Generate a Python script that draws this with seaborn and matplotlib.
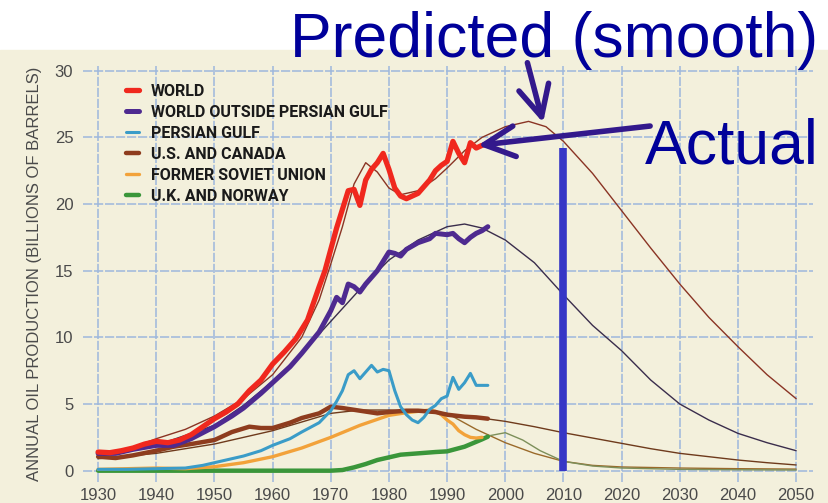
import matplotlib
matplotlib.use("Agg")
import matplotlib.pyplot as plt
import seaborn as sns
from matplotlib.patches import Rectangle

# actual production (thick lines), billions of barrels per year
world_years = [1930, 1932, 1934, 1936, 1938, 1940, 1942, 1944, 1946, 1948, 1950, 1952, 1954, 1956,
               1958, 1960, 1962, 1964, 1966, 1968, 1969, 1970, 1971, 1972, 1973, 1974, 1975, 1976,
               1977, 1978, 1979, 1980, 1981, 1982, 1983, 1984, 1985, 1986, 1987, 1988, 1989, 1990,
               1991, 1992, 1993, 1994, 1995, 1996]
world_actual = [1.4, 1.35, 1.5, 1.7, 2.0, 2.2, 2.1, 2.3, 2.7, 3.3, 3.9, 4.4, 5.0, 6.0,
                6.8, 8.0, 8.9, 9.9, 11.3, 13.8, 15.0, 16.6, 18.2, 19.6, 21.0, 21.1, 19.9, 21.8,
                22.6, 23.1, 23.8, 22.6, 21.2, 20.6, 20.4, 20.6, 20.8, 21.3, 21.8, 22.5, 22.9, 23.2,
                24.7, 23.8, 23.1, 24.6, 24.2, 24.4]

outside_years = [1930, 1933, 1936, 1940, 1943, 1946, 1950, 1953, 1955, 1958, 1960, 1963, 1965, 1968,
                 1970, 1971, 1972, 1973, 1974, 1975, 1976, 1977, 1978, 1979, 1980, 1981, 1982, 1983,
                 1985, 1987, 1988, 1990, 1991, 1992, 1993, 1994, 1995, 1996, 1997]
outside_actual = [1.3, 1.3, 1.6, 1.9, 1.9, 2.4, 3.3, 4.1, 4.7, 5.8, 6.6, 7.8, 8.8, 10.4,
                  12.0, 13.0, 12.6, 14.0, 13.8, 13.4, 14.0, 14.5, 15.0, 15.7, 16.4, 16.3, 16.1, 16.6,
                  17.1, 17.4, 17.8, 17.7, 17.8, 17.4, 17.1, 17.5, 17.8, 18.0, 18.3]

gulf_years = [1930, 1935, 1940, 1945, 1948, 1950, 1952, 1955, 1958, 1960, 1963, 1965, 1968, 1970,
              1971, 1972, 1973, 1974, 1975, 1976, 1977, 1978, 1979, 1980, 1981, 1982, 1983, 1984,
              1985, 1986, 1987, 1988, 1989, 1990, 1991, 1992, 1993, 1994, 1995, 1996, 1997]
gulf_actual = [0.1, 0.1, 0.15, 0.2, 0.4, 0.6, 0.8, 1.1, 1.5, 1.9, 2.4, 2.9, 3.6, 4.5,
               5.2, 6.0, 7.2, 7.5, 6.9, 7.4, 7.9, 7.4, 7.6, 7.5, 6.0, 4.8, 4.2, 3.8,
               3.6, 4.0, 4.6, 4.9, 5.4, 5.6, 7.0, 6.1, 6.6, 7.3, 6.4, 6.4, 6.4]

usc_years = [1930, 1933, 1936, 1940, 1943, 1946, 1950, 1953, 1956, 1958, 1960, 1963, 1965, 1968,
             1970, 1972, 1975, 1978, 1980, 1983, 1985, 1988, 1990, 1993, 1995, 1997]
usc_actual = [1.05, 0.95, 1.15, 1.5, 1.8, 2.0, 2.3, 2.9, 3.3, 3.2, 3.2, 3.6, 3.95, 4.3,
              4.8, 4.7, 4.5, 4.3, 4.4, 4.5, 4.5, 4.4, 4.2, 4.05, 4.0, 3.9]

fsu_years = [1930, 1935, 1940, 1945, 1950, 1955, 1960, 1965, 1970, 1975, 1980, 1983, 1985, 1987,
             1988, 1989, 1990, 1991, 1992, 1993, 1994, 1995, 1996]
fsu_actual = [0.1, 0.15, 0.2, 0.15, 0.3, 0.6, 1.05, 1.7, 2.5, 3.4, 4.15, 4.35, 4.45, 4.55,
              4.45, 4.2, 3.8, 3.5, 3.0, 2.7, 2.5, 2.45, 2.5]

ukn_years = [1930, 1950, 1970, 1972, 1974, 1976, 1978, 1980, 1982, 1985, 1988, 1990, 1993, 1996, 1997]
ukn_actual = [0.0, 0.0, 0.0, 0.05, 0.25, 0.5, 0.8, 1.0, 1.2, 1.3, 1.4, 1.45, 1.8, 2.35, 2.55]

# predicted (smooth, thin lines)
world_s_years = [1930, 1935, 1940, 1945, 1950, 1955, 1960, 1965, 1968, 1970, 1972, 1974, 1976, 1978,
                 1980, 1982, 1985, 1988, 1990, 1993, 1996, 2000, 2004, 2007, 2010, 2015, 2020, 2025,
                 2030, 2035, 2040, 2045, 2050]
world_smooth = [1.2, 1.6, 2.4, 3.1, 4.1, 5.4, 7.2, 10.0, 12.8, 15.5, 18.3, 21.5, 23.1, 22.4,
                21.2, 20.7, 21.0, 21.9, 22.7, 24.0, 25.0, 25.8, 26.2, 25.8, 24.7, 22.3, 19.5, 16.7,
                14.0, 11.5, 9.3, 7.2, 5.4]

outside_s_years = [1930, 1940, 1950, 1955, 1960, 1965, 1970, 1975, 1980, 1985, 1990, 1993, 1996, 2000,
                   2005, 2010, 2015, 2020, 2025, 2030, 2035, 2040, 2045, 2050]
outside_smooth = [1.2, 1.9, 3.4, 4.9, 6.7, 8.8, 11.2, 13.6, 15.8, 17.3, 18.3, 18.5, 18.2, 17.3,
                  15.6, 13.2, 10.9, 9.0, 6.8, 5.0, 3.8, 2.8, 2.1, 1.5]

usc_s_years = [1930, 1940, 1950, 1960, 1970, 1975, 1980, 1985, 1990, 1995, 2000, 2005, 2010, 2015,
               2020, 2025, 2030, 2035, 2040, 2045, 2050]
usc_smooth = [0.9, 1.3, 2.0, 3.0, 4.3, 4.55, 4.55, 4.45, 4.25, 4.0, 3.7, 3.3, 2.85, 2.45,
              2.05, 1.65, 1.3, 1.05, 0.8, 0.6, 0.43]

fsu_s_years = [1985, 1990, 1995, 2000, 2005, 2010, 2015, 2020, 2030, 2040, 2050]
fsu_smooth = [4.45, 4.3, 3.1, 2.1, 1.3, 0.7, 0.4, 0.28, 0.2, 0.15, 0.12]

ukn_s_years = [1995, 1997, 2000, 2003, 2006, 2010, 2015, 2020, 2030, 2040, 2050]
ukn_smooth = [2.35, 2.6, 2.85, 2.3, 1.5, 0.7, 0.35, 0.2, 0.1, 0.07, 0.05]

now_year = 2010
now_top = 24.2

cream = "#f3f0dc"
ink = "#00009a"
arrow_col = "#33198c"

sns.set_style("white")
plt.rcParams['font.family'] = ['Liberation Sans', 'DejaVu Sans']

fig = plt.figure(figsize=(8.29, 5.03), dpi=100)
fig.patches.append(Rectangle((0, 0), 1, 1 - 50 / 503, transform=fig.transFigure,
                             color=cream, zorder=-1))
ax = fig.add_axes([0.1001, 0.0417, 0.8806, 0.827])
ax.set_facecolor(cream)

# thin smooth curves first
sns.lineplot(x=world_s_years, y=world_smooth, ax=ax, color="#8a3424", linewidth=1.0)
sns.lineplot(x=outside_s_years, y=outside_smooth, ax=ax, color="#3a2d4c", linewidth=1.0)
sns.lineplot(x=usc_s_years, y=usc_smooth, ax=ax, color="#6e3a1c", linewidth=1.0)
sns.lineplot(x=fsu_s_years, y=fsu_smooth, ax=ax, color="#9a6a2a", linewidth=1.0)
sns.lineplot(x=ukn_s_years, y=ukn_smooth, ax=ax, color="#7c8f5a", linewidth=1.0)

# thick actual lines
sns.lineplot(x=ukn_years, y=ukn_actual, ax=ax, color="#3a963a", linewidth=3.2, label="U.K. AND NORWAY")
sns.lineplot(x=fsu_years, y=fsu_actual, ax=ax, color="#f2a23a", linewidth=2.4, label="FORMER SOVIET UNION")
sns.lineplot(x=usc_years, y=usc_actual, ax=ax, color="#8e3c1e", linewidth=3.2, label="U.S. AND CANADA")
sns.lineplot(x=gulf_years, y=gulf_actual, ax=ax, color="#3a9cc8", linewidth=2.2, label="PERSIAN GULF")
sns.lineplot(x=outside_years, y=outside_actual, ax=ax, color="#4e2a90", linewidth=3.6,
             label="WORLD OUTSIDE PERSIAN GULF")
sns.lineplot(x=world_years, y=world_actual, ax=ax, color="#f0281e", linewidth=3.8, label="WORLD")

ax.set_xlim(1927.4, 2052.9)
ax.set_ylim(-0.85, 30.35)
ax.set_xticks(range(1930, 2051, 10))
ax.set_yticks(range(0, 31, 5))
ax.grid(True, color="#9db7dc", linewidth=1.1, linestyle=(0, (6, 1.2)))
for s in ax.spines.values():
    s.set_visible(False)
ax.tick_params(length=0, labelsize=12, colors="#4a4a4a")
ax.tick_params(axis='x', pad=4)
ax.tick_params(axis='y', pad=7)
ax.set_xlabel("")
ax.set_ylabel("ANNUAL OIL PRODUCTION (BILLIONS OF BARRELS)", fontsize=12, color="#4a4a4a",
              labelpad=9)

handles, labels = ax.get_legend_handles_labels()
leg = ax.legend(handles[::-1], labels[::-1], loc="upper left", bbox_to_anchor=(0.048, 0.977),
                frameon=False, handlelength=0.8, handletextpad=0.75, labelspacing=0.38,
                borderpad=0, prop={'family': ['Roboto', 'DejaVu Sans'],
                                   'weight': 'bold', 'size': 11.5})
for t in leg.get_texts():
    t.set_color("#1a1a1a")

# 2010 marker
ax.vlines(now_year, 0, now_top, color="#3636c6", linewidth=5.5, zorder=5)

# annotation arrows
arrow_props = dict(arrowstyle="->,head_length=1.1,head_width=0.55", color=arrow_col, lw=4,
                   mutation_scale=20, shrinkA=0, shrinkB=0)
ax.annotate("", xy=(2006.5, 26.1), xytext=(2003.8, 30.6), arrowprops=arrow_props,
            annotation_clip=False, zorder=6)
ax.annotate("", xy=(1995.3, 24.4), xytext=(2024.9, 25.85), arrowprops=arrow_props,
            annotation_clip=False, zorder=6)

fig.text(290 / 829, 1 - 57 / 503, "Predicted (smooth)", fontsize=45, color=ink,
         va="baseline", ha="left")
fig.text(645 / 829, 1 - 163 / 503, "Actual", fontsize=45, color=ink, va="baseline", ha="left")

fig.savefig("out.png", dpi=100)
